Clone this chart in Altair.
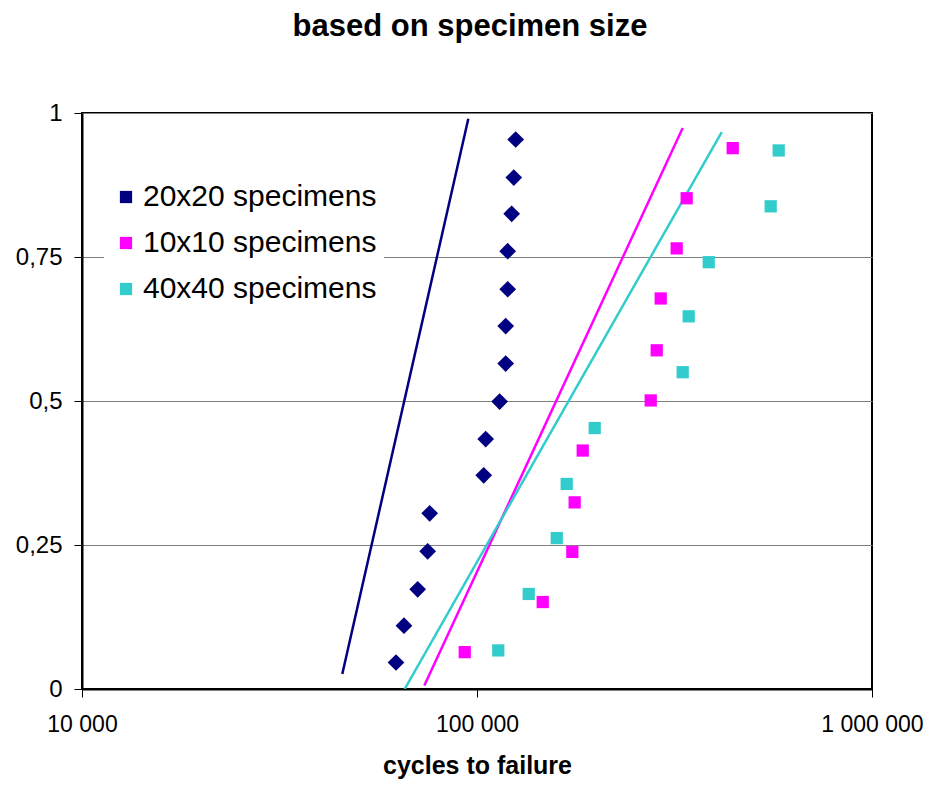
import altair as alt
import pandas as pd

FONT = "Liberation Sans"

series_names = ["20x20 specimens", "10x10 specimens", "40x40 specimens"]
series_colors = ["#000080", "#FF00FF", "#33CCCC"]
series_shapes = ["diamond", "square", "square"]
series_sizes = [280, 150, 150]

# measured points (cycles to failure, failure probability)
cycles_20 = [62360, 65330, 70770, 75000, 75900, 104000, 105200, 114100,
             118200, 118200, 119600, 119600, 122400, 123900, 125300]
prob_20 = [0.046, 0.110, 0.173, 0.239, 0.305, 0.371, 0.434, 0.499,
           0.565, 0.630, 0.694, 0.760, 0.825, 0.888, 0.954]

cycles_10 = [93100, 146700, 174300, 176700, 185200, 275300, 285100,
             291800, 320300, 339500, 444000]
prob_10 = [0.064, 0.151, 0.238, 0.324, 0.414, 0.501, 0.588, 0.678,
           0.765, 0.852, 0.939]

cycles_40 = [113200, 135200, 159200, 168700, 198600, 331700, 343500,
             386100, 554000, 580500]
prob_40 = [0.067, 0.165, 0.262, 0.356, 0.453, 0.550, 0.647, 0.741,
           0.838, 0.935]

# fitted lines (end points)
fit_cycles_20 = [45600, 95060]
fit_prob_20 = [0.026, 0.990]
fit_cycles_10 = [73560, 331700]
fit_prob_10 = [0.006, 0.974]
fit_cycles_40 = [65610, 416500]
fit_prob_40 = [0.0, 0.967]

x_tick_values = [10000, 100000, 1000000]
x_tick_labels = ["10 000", "100 000", "1 000 000"]
y_tick_values = [0, 0.25, 0.5, 0.75, 1]
y_tick_labels = ["0", "0,25", "0,5", "0,75", "1"]


def label_expr(values, labels):
    expr = "''"
    for v, l in reversed(list(zip(values, labels))):
        expr = f"datum.value == {v} ? '{l}' : ({expr})"
    return expr


pts = pd.concat([
    pd.DataFrame({"series": series_names[0], "cycles": cycles_20, "prob": prob_20, "msize": series_sizes[0]}),
    pd.DataFrame({"series": series_names[1], "cycles": cycles_10, "prob": prob_10, "msize": series_sizes[1]}),
    pd.DataFrame({"series": series_names[2], "cycles": cycles_40, "prob": prob_40, "msize": series_sizes[2]}),
])
fits = pd.concat([
    pd.DataFrame({"series": series_names[0], "cycles": fit_cycles_20, "prob": fit_prob_20}),
    pd.DataFrame({"series": series_names[1], "cycles": fit_cycles_10, "prob": fit_prob_10}),
    pd.DataFrame({"series": series_names[2], "cycles": fit_cycles_40, "prob": fit_prob_40}),
])

x_enc = alt.X(
    "cycles:Q",
    scale=alt.Scale(type="log", domain=[10000, 1000000], nice=False),
    axis=alt.Axis(
        values=x_tick_values,
        labelExpr=label_expr(x_tick_values, x_tick_labels),
        title="cycles to failure",
        grid=False,
        tickSize=8,
        labelPadding=16,
        labelFontSize=23,
        labelFont=FONT,
        labelColor="black",
        labelFlush=False,
        titleFont=FONT,
        titleFontSize=25,
        titleFontWeight="bold",
        titleColor="black",
        titlePadding=17,
    ),
)
y_enc = alt.Y(
    "prob:Q",
    scale=alt.Scale(domain=[0, 1], nice=False),
    axis=alt.Axis(
        values=y_tick_values,
        labelExpr=label_expr(y_tick_values, y_tick_labels),
        title=None,
        grid=True,
        gridColor="#808080",
        gridWidth=1,
        tickSize=8,
        labelPadding=12,
        labelFontSize=24,
        labelFont=FONT,
        labelColor="black",
        labelFlush=False,
    ),
)

lines = alt.Chart(fits).mark_line(strokeWidth=2.5, clip=True).encode(
    x=x_enc,
    y=y_enc,
    detail="series:N",
    color=alt.Color("series:N", scale=alt.Scale(domain=series_names, range=series_colors), legend=None),
)

points = alt.Chart(pts).mark_point(filled=True, opacity=1, strokeWidth=0).encode(
    x=x_enc,
    y=y_enc,
    color=alt.Color(
        "series:N",
        scale=alt.Scale(domain=series_names, range=series_colors),
        legend=alt.Legend(
            orient="none",
            legendX=22,
            legendY=62,
            title=None,
            fillColor="white",
            padding=7,
            labelFontSize=30,
            labelFont=FONT,
            labelColor="black",
            labelLimit=400,
            symbolType="square",
            symbolSize=150,
            rowPadding=16,
            labelOffset=2,
            symbolStrokeWidth=0,
        ),
    ),
    shape=alt.Shape(
        "series:N",
        scale=alt.Scale(domain=series_names, range=series_shapes),
        legend=None,
    ),
    size=alt.Size("msize:Q", scale=alt.Scale(domain=[100, 300], range=[100, 300]), legend=None),
)

chart = (
    alt.layer(lines, points)
    .resolve_scale(color="independent")
    .properties(
        width=790,
        height=576,
        autosize=alt.AutoSizeParams(type="none"),
        padding={"left": 74, "top": 105, "right": 52, "bottom": 90},
        title=alt.TitleParams(
            "based on specimen size",
            font=FONT,
            fontSize=31,
            fontWeight="bold",
            color="black",
            anchor="middle",
            offset=58,
            dx=-7,
        ),
    )
    .configure_view(stroke="black", strokeWidth=2)
    .configure_axis(domainColor="black", domainWidth=2, tickColor="black", tickWidth=1)
)

chart.save("out.html", embed_options={"renderer": "svg", "actions": False})
